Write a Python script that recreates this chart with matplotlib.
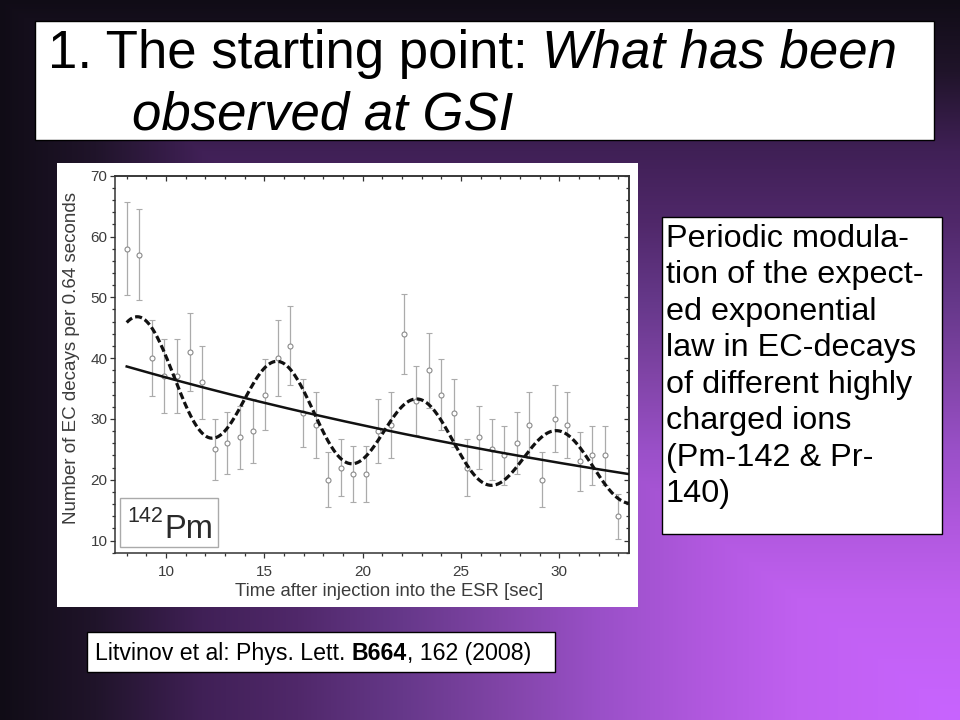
import numpy as np
import matplotlib
matplotlib.use("Agg")
import matplotlib.pyplot as plt
from matplotlib.patches import Rectangle
from matplotlib.ticker import MultipleLocator

# ---------------- data ----------------
time_s = [8.00, 8.64, 9.28, 9.92, 10.56, 11.20, 11.84, 12.48, 13.12, 13.76,
          14.40, 15.04, 15.68, 16.32, 16.96, 17.60, 18.24, 18.88, 19.52, 20.16,
          20.80, 21.44, 22.08, 22.72, 23.36, 24.00, 24.64, 25.28, 25.92, 26.56,
          27.20, 27.84, 28.48, 29.12, 29.76, 30.40, 31.04, 31.68, 32.32, 32.96]
counts = [58, 57, 40, 37, 37, 41, 36, 25, 26, 27,
          28, 34, 40, 42, 31, 29, 20, 22, 21, 21,
          28, 29, 44, 33, 38, 34, 31, 22, 27, 25,
          24, 26, 29, 20, 30, 29, 23, 24, 24, 14]
count_err = [7.6, 7.5, 6.3, 6.1, 6.1, 6.4, 6.0, 5.0, 5.1, 5.2,
             5.3, 5.8, 6.3, 6.5, 5.6, 5.4, 4.5, 4.7, 4.6, 4.6,
             5.3, 5.4, 6.6, 5.7, 6.2, 5.8, 5.6, 4.7, 5.2, 5.0,
             4.9, 5.1, 5.4, 4.5, 5.5, 5.4, 4.8, 4.9, 4.9, 3.7]

# fit curves (parameters)
decay_N0 = 46.8
decay_lambda = 0.0240
mod_amplitude = 0.23
mod_period = 7.10
mod_peak_time = 8.7
fit_start, fit_end = 8.0, 33.54

x_ticks = [10, 15, 20, 25, 30]
y_ticks = [10, 20, 30, 40, 50, 60, 70]
x_label = "Time after injection into the ESR [sec]"
y_label = "Number of EC decays per 0.64 seconds"
isotope_mass = "142"
isotope_symbol = "Pm"

title_plain = "1. The starting point:"
title_italic_1 = "What has been"
title_italic_2 = "observed at GSI"
note_lines = ["Periodic modula-", "tion of the expect-", "ed exponential",
              "law in EC-decays", "of different highly", "charged ions",
              "(Pm-142 & Pr-", "140)"]
cite_before = "Litvinov et al: Phys. Lett."
cite_bold = "B664"
cite_after = ", 162 (2008)"

# ---------------- figure ----------------
W, H = 960, 720
FONT = "Liberation Sans"
fig = plt.figure(figsize=(9.6, 7.2), dpi=100)


def fx(px):
    return px / W


def fy(py):
    return 1 - py / H


def add_box(x0, y0, x1, y1, z=1, fc="white", ec="black", lw=1.0):
    fig.add_artist(Rectangle((fx(x0), fy(y1)), (x1 - x0) / W, (y1 - y0) / H,
                             transform=fig.transFigure, facecolor=fc,
                             edgecolor=ec, linewidth=lw, zorder=z))


# background gradient (rectangular, dark top/left -> bright purple bottom-right)
bg = fig.add_axes([0, 0, 1, 1])
bg.set_zorder(-5)
bg.set_axis_off()
xs = (np.arange(W) + 0.5) / W
ys = (np.arange(H) + 0.5) / H
tt = np.minimum(xs[None, :], ys[:, None])
stop_pos = [0.0, 0.10, 0.21, 0.31, 0.42, 0.52, 0.625, 0.73, 0.83, 1.0]
stop_col = np.array([(16, 12, 22), (32, 20, 42), (64, 32, 86), (80, 40, 106),
                     (102, 56, 138), (128, 68, 166), (154, 80, 200),
                     (176, 88, 222), (192, 96, 240), (200, 100, 255)], float)
img = np.stack([np.interp(tt, stop_pos, stop_col[:, k]) for k in range(3)], axis=-1) / 255
bg.imshow(img, extent=[0, 1, 0, 1], origin="upper", aspect="auto", interpolation="bilinear")
bg.set_xlim(0, 1)
bg.set_ylim(0, 1)

renderer = fig.canvas.get_renderer()


def text_width(s, **kw):
    t = fig.text(0, 0, s, **kw)
    w = t.get_window_extent(renderer).width
    t.remove()
    return w


def space_width(**kw):
    return text_width("n n", **kw) - text_width("nn", **kw)


# ---------------- title box ----------------
add_box(35, 21, 934, 140, z=1)
tkw = dict(family=FONT, fontsize=38, color="black")
fig.text(fx(48), fy(68), title_plain, va="baseline", ha="left", zorder=3, **tkw)
x_it = 48 + text_width(title_plain, **tkw) + space_width(**tkw)
fig.text(fx(x_it), fy(68), title_italic_1, va="baseline", ha="left", style="italic", zorder=3, **tkw)
fig.text(fx(132), fy(130), title_italic_2, va="baseline", ha="left", style="italic", zorder=3, **tkw)

# ---------------- note box ----------------
add_box(662, 217, 942, 534, z=1)
for i, line in enumerate(note_lines):
    fig.text(fx(666), fy(246.7 + 36.5 * i), line, va="baseline", ha="left",
             family=FONT, fontsize=23.3, color="black", zorder=3)

# ---------------- citation box ----------------
add_box(87, 632, 555, 672, z=1)
ckw = dict(family=FONT, fontsize=16.7, color="black")
xc = 95
fig.text(fx(xc), fy(660), cite_before, va="baseline", ha="left", zorder=3, **ckw)
xc += text_width(cite_before, **ckw) + space_width(**ckw)
fig.text(fx(xc), fy(660), cite_bold, va="baseline", ha="left", weight="bold", zorder=3, **ckw)
xc += text_width(cite_bold, weight="bold", **ckw)
fig.text(fx(xc), fy(660), cite_after, va="baseline", ha="left", zorder=3, **ckw)

# ---------------- chart panel ----------------
add_box(57, 163, 638, 606.6, z=1, fc="white", ec="white", lw=0)

ax_l, ax_r, ax_t, ax_b = 115.3, 629.0, 175.7, 552.7
ax = fig.add_axes([fx(ax_l), fy(ax_b), (ax_r - ax_l) / W, (ax_b - ax_t) / H])
ax.set_zorder(2)
ax.set_facecolor("none")
ax.set_xlim(7.42, 33.54)
ax.set_ylim(8, 70)

spine_col = "#333333"
lab_col = "#3c3c3c"
for s in ax.spines.values():
    s.set_color(spine_col)
    s.set_linewidth(1.1)

ax.set_xticks(x_ticks)
ax.set_yticks(y_ticks)
ax.xaxis.set_minor_locator(MultipleLocator(1))
ax.yaxis.set_minor_locator(MultipleLocator(2))
ax.tick_params(which="both", direction="out", color=spine_col, width=0.9)
ax.tick_params(which="major", length=3.6)
ax.tick_params(which="minor", length=2.0)
ax.tick_params(axis="x", which="major", pad=5.5, labelsize=11, labelcolor=lab_col)
ax.tick_params(axis="y", which="major", pad=2, labelsize=11, labelcolor=lab_col)
for lab in ax.get_xticklabels() + ax.get_yticklabels():
    lab.set_family(FONT)

sx = ax.secondary_xaxis("top")
sx.set_xticks(x_ticks)
sx.xaxis.set_minor_locator(MultipleLocator(1))
sx.tick_params(which="both", direction="in", color=spine_col, width=0.9, labeltop=False)
sx.tick_params(which="major", length=3.6)
sx.tick_params(which="minor", length=2.0)
sx.spines["top"].set_color(spine_col)
sx.spines["top"].set_linewidth(1.1)
sy = ax.secondary_yaxis("right")
sy.set_yticks(y_ticks)
sy.yaxis.set_minor_locator(MultipleLocator(2))
sy.tick_params(which="both", direction="in", color=spine_col, width=0.9, labelright=False)
sy.tick_params(which="major", length=3.6)
sy.tick_params(which="minor", length=2.0)
sy.spines["right"].set_color(spine_col)
sy.spines["right"].set_linewidth(1.1)

ax.set_xlabel(x_label, family=FONT, fontsize=13.3, color=lab_col)
ax.set_ylabel(y_label, family=FONT, fontsize=13.5, color=lab_col)
ax.xaxis.set_label_coords(0.534, -0.081)
ax.yaxis.set_label_coords(-0.069, 0.516)

ax.errorbar(time_s, counts, yerr=count_err, fmt="o", ms=3.6, mfc="white",
            mec="#8a8a8a", mew=0.8, ecolor="#ababab", elinewidth=0.9,
            capsize=2.3, capthick=0.9, zorder=2)

t_fit = np.linspace(fit_start, fit_end, 500)
decay = decay_N0 * np.exp(-decay_lambda * t_fit)
modulated = decay * (1 + mod_amplitude * np.cos(2 * np.pi * (t_fit - mod_peak_time) / mod_period))
ax.plot(t_fit, decay, color="#111111", lw=1.8, zorder=3)
ax.plot(t_fit, modulated, color="#111111", lw=2.3, dashes=(2.2, 1.0), zorder=4)

# isotope label box
add_box(120.3, 497.7, 218.3, 546.7, z=3, fc="none", ec="#aaaaaa", lw=1.0)
fig.text(fx(127.5), fy(521.7), isotope_mass, va="baseline", ha="left",
         family=FONT, fontsize=15.5, color="#2a2a2a", zorder=4)
fig.text(fx(164.5), fy(538.3), isotope_symbol, va="baseline", ha="left",
         family=FONT, fontsize=23.5, color="#2a2a2a", zorder=4)

fig.savefig("out.png", dpi=100)
